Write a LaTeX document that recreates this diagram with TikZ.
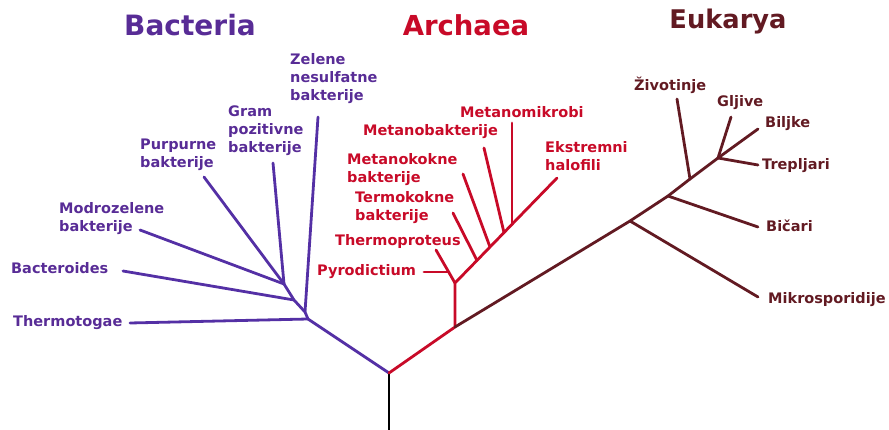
\documentclass[tikz,border=0pt]{standalone}
\usepackage{fontspec}
\setmainfont{DejaVu Sans}
\definecolor{bactC}{RGB}{88,44,150}
\definecolor{bactL}{RGB}{84,48,165}
\definecolor{archC}{RGB}{200,10,40}
\definecolor{eukC}{RGB}{98,26,34}
\tikzset{
  lab/.style={anchor=west,inner sep=0pt,align=left,font=\bfseries\fontsize{14.5}{18}\selectfont},
  ttl/.style={inner sep=0pt,font=\bfseries\fontsize{28}{30}\selectfont},
  br/.style={line width=2.8pt,line cap=round,line join=round},
}
\begin{document}
\begin{tikzpicture}[x=1pt,y=-1pt]
\useasboundingbox (0,0) rectangle (889,430);
% titles
\node[ttl,text=bactC] (tb) at (190,25) {Bacteria};
\node[ttl,text=archC,font=\bfseries\fontsize{27.5}{30}\selectfont] (ta) at (466,25) {Archaea};
\node[ttl,text=eukC,font=\bfseries\fontsize{25.7}{30}\selectfont] (te) at (728,22) {Eukarya};
% bacteria labels
\node[lab,text=bactC] (zel) at (290,79) {Zelene\\nesulfatne\\bakterije};
\node[lab,text=bactC] (gram) at (228,131) {Gram\\pozitivne\\bakterije};
\node[lab,text=bactC] (purp) at (140,155) {Purpurne\\bakterije};
\node[lab,text=bactC] (modro) at (59,219) {Modrozelene\\bakterije};
\node[lab,text=bactC] (bactd) at (11,268) {Bacteroides};
\node[lab,text=bactC] (thermo) at (13,323) {Thermotogae};
% archaea labels
\node[lab,text=archC] (mmik) at (460,112) {Metanomikrobi};
\node[lab,text=archC] (mbak) at (363,132) {Metanobakterije};
\node[lab,text=archC] (mkok) at (347,170) {Metanokokne\\bakterije};
\node[lab,text=archC] (tkok) at (355,208) {Termokokne\\bakterije};
\node[lab,text=archC] (tprot) at (335,242) {Thermoproteus};
\node[lab,text=archC] (pyro) at (317,272) {Pyrodictium};
\node[lab,text=archC] (ekst) at (545,156) {Ekstremni\\halofili};
% eukarya labels
\node[lab,text=eukC] (ziv) at (634,85) {Životinje};
\node[lab,text=eukC] (glj) at (717,103) {Gljive};
\node[lab,text=eukC] (bilj) at (765,124) {Biljke};
\node[lab,text=eukC] (trep) at (762,166) {Trepljari};
\node[lab,text=eukC] (bic) at (766,226) {Bičari};
\node[lab,text=eukC] (mikro) at (768,300) {Mikrosporidije};
% coordinates
\coordinate (rb) at (389,430);
\coordinate (R) at (389,373);
\coordinate (B1) at (308,319);
\coordinate (B2) at (305,312);
\coordinate (B3) at (294,300);
\coordinate (B4) at (284,284);
\coordinate (tThermo) at (130,323);
\coordinate (tBactd) at (123,271);
\coordinate (tModro) at (140,230);
\coordinate (tPurp) at (204,177);
\coordinate (tGram) at (273,163);
\coordinate (tZel) at (318,117);
\coordinate (A1) at (455,327);
\coordinate (A2) at (455,283);
\coordinate (tTprot) at (436,250);
\coordinate (P) at (449,272);
\coordinate (tPyro) at (424,272);
\coordinate (Jtk) at (477,260.4);
\coordinate (Jmk) at (490,247);
\coordinate (Jmb) at (504,232.6);
\coordinate (Jmm) at (512,224.3);
\coordinate (tEkst) at (557,178);
\coordinate (tTk) at (453,213);
\coordinate (tMk) at (463,174);
\coordinate (tMb) at (484,148);
\coordinate (tMm) at (512,123);
\coordinate (E1) at (630,221);
\coordinate (E2) at (668,196);
\coordinate (E3) at (690,179);
\coordinate (E4) at (718,158);
\coordinate (tMikro) at (758,297);
\coordinate (tBic) at (758,227);
\coordinate (tZiv) at (677,99);
\coordinate (tGlj) at (731,117);
\coordinate (tBilj) at (758,129);
\coordinate (tTrep) at (758,165);
% root
\draw[br,black,line cap=butt] (rb) -- (R);
% bacteria
\draw[br,bactL] (R) -- (B1) -- (B2) -- (B3) -- (B4);
\draw[br,bactL] (B1) -- (tThermo);
\draw[br,bactL] (B2) -- (tZel);
\draw[br,bactL] (B3) -- (tBactd);
\draw[br,bactL] (B4) -- (tModro);
\draw[br,bactL] (B4) -- (tPurp);
\draw[br,bactL] (B4) -- (tGram);
% archaea
\draw[br,archC] (R) -- (A1) -- (A2) -- (Jtk) -- (Jmk) -- (Jmb) -- (Jmm) -- (tEkst);
\draw[br,archC] (A2) -- (tTprot);
\draw[br,archC] (P) -- (tPyro);
\draw[br,archC] (Jtk) -- (tTk);
\draw[br,archC] (Jmk) -- (tMk);
\draw[br,archC] (Jmb) -- (tMb);
\draw[br,archC] (Jmm) -- (tMm);
% eukarya
\draw[br,eukC] (A1) -- (E1) -- (E2) -- (E3) -- (E4);
\draw[br,eukC] (E1) -- (tMikro);
\draw[br,eukC] (E2) -- (tBic);
\draw[br,eukC] (E3) -- (tZiv);
\draw[br,eukC] (E4) -- (tGlj);
\draw[br,eukC] (E4) -- (tBilj);
\draw[br,eukC] (E4) -- (tTrep);
\end{tikzpicture}
\end{document}
